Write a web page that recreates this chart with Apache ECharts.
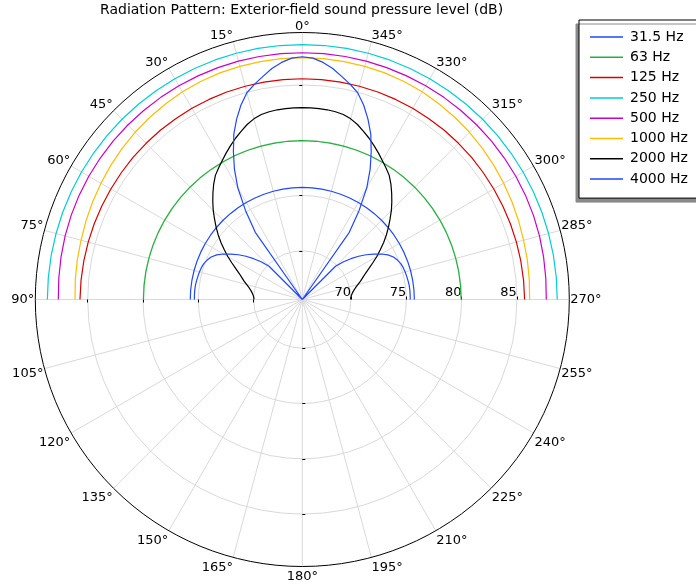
<!DOCTYPE html>
<html>
<head>
<meta charset="utf-8">
<title>Radiation Pattern</title>
<script src="https://cdn.jsdelivr.net/npm/echarts@6/dist/echarts.min.js"></script>
<style>
  html, body { margin: 0; padding: 0; background: #ffffff; }
  #chart { width: 696px; height: 584px; }
</style>
</head>
<body>
<div id="chart"></div>
<script>
// Exterior-field sound pressure level (dB) over the upper half plane, per frequency band.
const TITLE = 'Radiation Pattern: Exterior-field sound pressure level (dB)';

const SERIES_NAMES = ['31.5 Hz', '63 Hz', '125 Hz', '250 Hz', '500 Hz', '1000 Hz', '2000 Hz', '4000 Hz'];
const SERIES_COLORS = ['#1f47ff', '#1fb33a', '#d80000', '#00cdd4', '#c800c8', '#ffbc00', '#000000', '#1f47ff'];

// Radial scale of the plot (dB) and its labelled rings
const R_MIN = 65.6;
const R_MAX = 89.74;
const RADIUS_TICKS = [70, 75, 80, 85];

// Angles (degrees); -90 is the 270° direction, 0 is the top, 90 is the left
const ANGLES_COARSE = [-90, -85, -80, -75, -70, -65, -60, -55, -50, -45, -40, -35, -30, -25, -20, -15, -10, -5,
  0, 5, 10, 15, 20, 25, 30, 35, 40, 45, 50, 55, 60, 65, 70, 75, 80, 85, 90];

const ANGLES_FINE = [-90, -87.5, -85, -82.5, -80, -77.5, -75, -72.5, -70, -67.5, -65, -62.5, -60, -57.5, -55, -52.5,
  -50, -47.5, -45, -42.5, -40, -37.5, -35, -32.5, -30, -27.5, -25, -22.5, -20, -17.5, -15, -12.5, -10, -7.5, -5, -2.5,
  0, 2.5, 5, 7.5, 10, 12.5, 15, 17.5, 20, 22.5, 25, 27.5, 30, 32.5, 35, 37.5, 40, 42.5, 45, 47.5, 50, 52.5, 55,
  57.5, 60, 62.5, 65, 67.5, 70, 72.5, 75, 77.5, 80, 82.5, 85, 87.5, 90];

// SPL on ANGLES_COARSE
const SPL_31_5 = [75.73, 75.73, 75.73, 75.73, 75.73, 75.73, 75.73, 75.73, 75.73, 75.73, 75.73, 75.73, 75.73,
  75.73, 75.73, 75.73, 75.73, 75.73, 75.73, 75.73, 75.73, 75.73, 75.73, 75.73, 75.73, 75.73, 75.73, 75.73,
  75.73, 75.73, 75.73, 75.73, 75.73, 75.73, 75.73, 75.73, 75.73];
const SPL_63 = [79.96, 79.96, 79.96, 79.96, 79.96, 79.96, 79.96, 79.96, 79.96, 79.96, 79.96, 79.96, 79.96,
  79.96, 79.96, 79.96, 79.96, 79.96, 79.96, 79.96, 79.96, 79.96, 79.96, 79.96, 79.96, 79.96, 79.96, 79.96,
  79.96, 79.96, 79.96, 79.96, 79.96, 79.96, 79.96, 79.96, 79.96];
const SPL_125 = [85.70, 85.68, 85.66, 85.64, 85.62, 85.60, 85.59, 85.58, 85.58, 85.57, 85.57, 85.56, 85.56,
  85.56, 85.56, 85.56, 85.56, 85.56, 85.56, 85.56, 85.56, 85.56, 85.56, 85.56, 85.56, 85.56, 85.57, 85.57,
  85.58, 85.58, 85.59, 85.60, 85.62, 85.64, 85.66, 85.68, 85.70];
const SPL_250 = [88.65, 88.65, 88.65, 88.65, 88.65, 88.65, 88.65, 88.65, 88.65, 88.65, 88.65, 88.65, 88.65,
  88.65, 88.65, 88.65, 88.65, 88.65, 88.65, 88.65, 88.65, 88.65, 88.65, 88.65, 88.65, 88.65, 88.65, 88.65,
  88.65, 88.65, 88.65, 88.65, 88.65, 88.65, 88.65, 88.65, 88.65];
const SPL_500 = [87.66, 87.70, 87.75, 87.80, 87.84, 87.87, 87.89, 87.90, 87.91, 87.91, 87.91, 87.91, 87.91,
  87.91, 87.91, 87.91, 87.91, 87.91, 87.91, 87.91, 87.91, 87.91, 87.91, 87.91, 87.91, 87.91, 87.91, 87.91,
  87.91, 87.90, 87.89, 87.87, 87.84, 87.80, 87.75, 87.70, 87.66];
const SPL_1000 = [86.15, 86.20, 86.26, 86.31, 86.41, 86.51, 86.62, 86.74, 86.86, 86.98, 87.08, 87.18, 87.28,
  87.35, 87.40, 87.42, 87.44, 87.46, 87.46, 87.46, 87.44, 87.42, 87.40, 87.35, 87.28, 87.18, 87.08, 86.98,
  86.86, 86.74, 86.62, 86.51, 86.41, 86.31, 86.26, 86.20, 86.15];

// SPL on ANGLES_FINE
const SPL_2000 = [69.97, 69.99, 70.06, 70.17, 70.33, 70.53, 70.80, 71.12, 71.43, 71.79, 72.25, 72.79, 73.38,
  73.96, 74.58, 75.18, 75.77, 76.36, 76.99, 77.58, 78.17, 78.76, 79.30, 79.69, 80.09, 80.52, 80.95, 81.38,
  81.78, 82.19, 82.51, 82.73, 82.84, 82.90, 82.92, 82.94, 82.94,
  82.94, 82.92, 82.90, 82.84, 82.73, 82.51, 82.19, 81.78, 81.38, 80.95, 80.52, 80.09, 79.69, 79.30, 78.76,
  78.17, 77.58, 76.99, 76.36, 75.77, 75.18, 74.58, 73.96, 73.38, 72.79, 72.25, 71.79, 71.43, 71.12, 70.80,
  70.53, 70.33, 70.17, 70.06, 69.99, 69.97];
const SPL_4000 = [75.36, 75.36, 75.36, 75.35, 75.31, 75.27, 75.23, 75.17, 75.08, 74.91, 74.69, 74.33, 73.83,
  73.24, 72.65, 72.02, 71.34, 70.66, 69.85, 65.6, 65.6, 65.6, 73.01, 75.18, 77.26, 78.89, 80.34, 81.78,
  82.96, 84.04, 84.95, 85.54, 86.08, 86.67, 87.12, 87.44, 87.55,
  87.44, 87.12, 86.67, 86.08, 85.54, 84.95, 84.04, 82.96, 81.78, 80.34, 78.89, 77.26, 75.18, 73.01, 65.6,
  65.6, 65.6, 69.85, 70.66, 71.34, 72.02, 72.65, 73.24, 73.83, 74.33, 74.69, 74.91, 75.08, 75.17, 75.23,
  75.27, 75.31, 75.35, 75.36, 75.36, 75.36];

const SERIES_VALUES = [SPL_31_5, SPL_63, SPL_125, SPL_250, SPL_500, SPL_1000, SPL_2000, SPL_4000];
const SERIES_ANGLES = [ANGLES_COARSE, ANGLES_COARSE, ANGLES_COARSE, ANGLES_COARSE, ANGLES_COARSE,
  ANGLES_COARSE, ANGLES_FINE, ANGLES_FINE];

const FONT = 'DejaVu Sans';
const GRID_GRAY = '#d9d9d9';
const CENTER = [302.3, 299.5];
const RADIUS = 267;

// Angle labels hug the outer circle: left-half labels end at their spoke,
// right-half labels start at it, upper labels sit above and lower ones below.
function angleLabel(v) {
  if (v === 270) return '';
  const deg = ((v % 360) + 360) % 360;
  const text = deg + '°';
  if (deg === 15) return '{r1|' + text + '}';
  if (deg === 165) return '{r2lo|' + text + '}';
  if (deg === 195) return '{l2lo|' + text + '}';
  if (deg === 345) return '{l2|' + text + '}';
  if (deg === 75 || deg === 285) return text + '\n';
  if (deg === 105 || deg === 255) return '\n' + text;
  if (deg >= 120 && deg <= 240) return '{lo|' + text + '}';
  return text;
}

const labelFont = { fontFamily: FONT, fontSize: 13, color: '#000' };

// One visible polar system plus three overlays that only carry radial tick marks
// along the up, left and down directions.
const polar = [0, 1, 2, 3].map(() => ({ center: CENTER, radius: RADIUS }));

const angleAxis = [
  {
    polarIndex: 0,
    type: 'value',
    min: -90,
    max: 270,
    interval: 15,
    startAngle: 0,
    clockwise: false,
    axisLine: { show: true, lineStyle: { color: '#000', width: 1 } },
    axisTick: { show: false },
    axisLabel: Object.assign({}, labelFont, {
      margin: 1,
      lineHeight: 10,
      formatter: angleLabel,
      rich: {
        r1: Object.assign({}, labelFont, { lineHeight: 10, padding: [0, 23, 0, 0] }),
        l2: Object.assign({}, labelFont, { lineHeight: 10, padding: [0, 0, 0, 31] }),
        r2lo: Object.assign({}, labelFont, { lineHeight: 18, padding: [0, 31, 0, 0] }),
        l2lo: Object.assign({}, labelFont, { lineHeight: 18, padding: [0, 0, 0, 31] }),
        lo: Object.assign({}, labelFont, { lineHeight: 18 })
      }
    }),
    splitLine: { show: true, lineStyle: { color: GRID_GRAY, width: 1 } }
  }
].concat([90, 180, 270].map((start, i) => ({
  polarIndex: i + 1,
  type: 'value',
  min: -90,
  max: 270,
  startAngle: start,
  clockwise: false,
  show: false
})));

const radiusAxis = [
  {
    polarIndex: 0,
    type: 'value',
    min: R_MIN,
    max: R_MAX,
    splitNumber: 5,
    axisLine: { show: false },
    axisTick: { show: true, length: 3, customValues: RADIUS_TICKS, lineStyle: { color: '#000', width: 1 } },
    axisLabel: Object.assign({}, labelFont, {
      show: true,
      customValues: RADIUS_TICKS,
      margin: 0,
      align: 'right',
      verticalAlign: 'bottom',
      formatter: (v) => String(v)
    }),
    splitLine: { show: true, lineStyle: { color: GRID_GRAY, width: 1 } }
  }
].concat([1, 2, 3].map((k) => ({
  polarIndex: k,
  type: 'value',
  min: R_MIN,
  max: R_MAX,
  splitNumber: 5,
  axisLine: { show: false },
  axisLabel: { show: false },
  splitLine: { show: false },
  axisTick: { show: true, length: 3, customValues: RADIUS_TICKS, lineStyle: { color: '#000', width: 1 } }
})));

const series = SERIES_NAMES.map((name, i) => ({
  name: name,
  type: 'line',
  coordinateSystem: 'polar',
  polarIndex: 0,
  symbol: 'none',
  showSymbol: false,
  smooth: false,
  animation: false,
  color: SERIES_COLORS[i],
  lineStyle: { color: SERIES_COLORS[i], width: 1.2 },
  data: SERIES_VALUES[i].map((v, j) => [v, SERIES_ANGLES[i][j]])
}));

const chart = echarts.init(document.getElementById('chart'), null, { renderer: 'canvas' });
chart.setOption({
  backgroundColor: '#ffffff',
  animation: false,
  textStyle: { fontFamily: FONT },
  title: {
    text: TITLE,
    left: 100,
    top: 3,
    padding: 0,
    textStyle: { fontFamily: FONT, fontSize: 14, fontWeight: 'normal', color: '#000' }
  },
  legend: {
    data: SERIES_NAMES,
    orient: 'vertical',
    left: 579,
    top: 20,
    padding: [10, 40, 12, 11],
    icon: 'rect',
    itemWidth: 33,
    itemHeight: 1.5,
    itemGap: 6.3,
    backgroundColor: '#ffffff',
    borderColor: '#000',
    borderWidth: 1,
    shadowColor: '#8a8a8a',
    shadowBlur: 0,
    shadowOffsetX: -3,
    shadowOffsetY: 4,
    selectedMode: false,
    textStyle: { fontFamily: FONT, fontSize: 14, color: '#000', lineHeight: 14, padding: [0, 0, 0, 2] }
  },
  polar: polar,
  angleAxis: angleAxis,
  radiusAxis: radiusAxis,
  series: series
});
</script>
</body>
</html>
